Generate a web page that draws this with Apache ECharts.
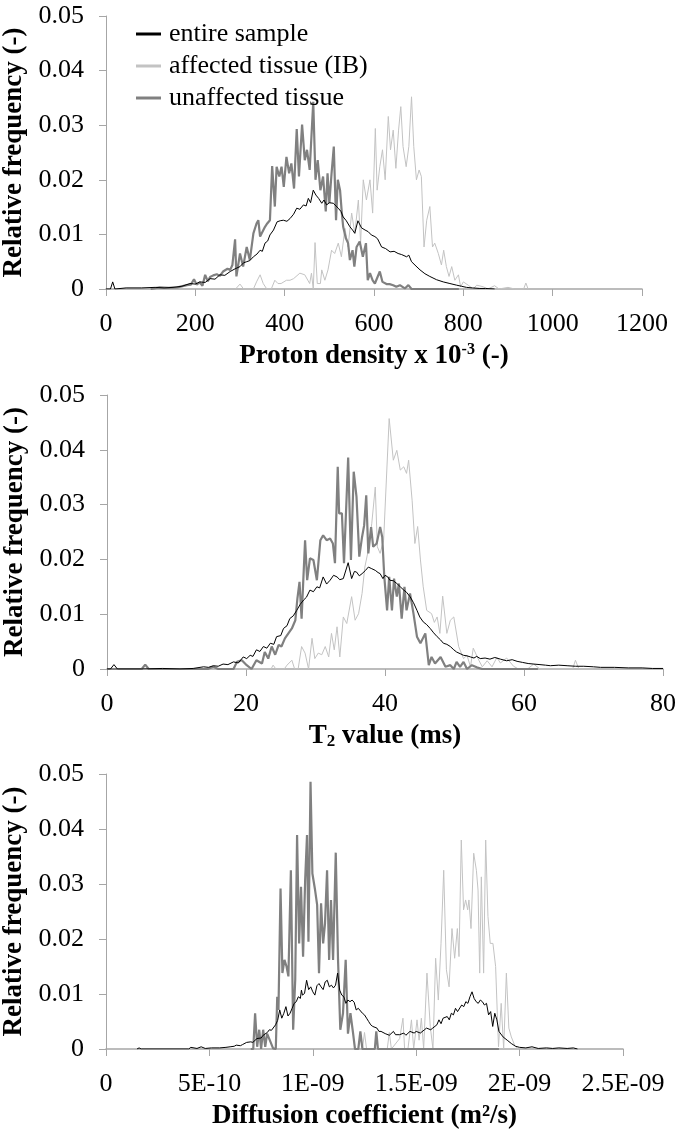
<!DOCTYPE html>
<html>
<head>
<meta charset="utf-8">
<script src="https://cdn.jsdelivr.net/npm/echarts@6/dist/echarts.min.js"></script>
<style>
html, body { margin: 0; padding: 0; background: #fff; }
#main { width: 675px; height: 1130px; }
</style>
</head>
<body>
<div id="main"></div>
<script>
// series names (legend)
const seriesNames = ['entire sample', 'affected tissue (IB)', 'unaffected tissue'];

// y ticks shared by the three panels
const yTickLabels = ['0', '0.01', '0.02', '0.03', '0.04', '0.05'];

// x tick labels
const pdTickLabels = ['0', '200', '400', '600', '800', '1000', '1200'];
const t2TickLabels = ['0', '20', '40', '60', '80'];
// panel 3 x values are stored in units of 1E-09 m2/s
const dcTickLabels = ['0', '5E-10', '1E-09', '1.5E-09', '2E-09', '2.5E-09'];

// ---------- panel 1: proton density x 10^-3 ----------
const pdEntire = [
  [0, 0], [10, 0], [15, 0.0013], [20, 0], [45, 0.0002], [80, 0.0002], [110, 0.0003], [130, 0.0002], [150, 0.0003], [170, 0.0005],
  [188, 0.001], [200, 0.0009], [210, 0.0013], [222, 0.0012], [233, 0.0019], [244, 0.0018], [255, 0.0026], [266, 0.0025], [278, 0.0032], [289, 0.0037],
  [300, 0.0041], [308, 0.0048], [315, 0.005], [322, 0.0052], [330, 0.0059], [338, 0.0064], [345, 0.0071], [350, 0.0069], [356, 0.0084], [362, 0.0088],
  [367, 0.0099], [375, 0.0108], [383, 0.0123], [390, 0.0125], [397, 0.0126], [405, 0.0124], [412, 0.0129], [420, 0.0137], [427, 0.0148], [434, 0.0146],
  [442, 0.0154], [448, 0.0152], [453, 0.0166], [458, 0.0158], [464, 0.0181], [470, 0.0172], [476, 0.0166], [483, 0.0157], [488, 0.0163], [494, 0.0154],
  [500, 0.0158], [509, 0.0157], [515, 0.0152], [520, 0.0148], [526, 0.0142], [531, 0.0132], [538, 0.0125], [546, 0.0114], [552, 0.0108], [557, 0.0102],
  [564, 0.0125], [572, 0.0112], [580, 0.0108], [587, 0.0105], [594, 0.0099], [602, 0.0096], [608, 0.0092], [617, 0.0077], [626, 0.0074], [636, 0.0068],
  [645, 0.0069], [654, 0.0065], [662, 0.0063], [673, 0.0059], [678, 0.0062], [684, 0.005], [694, 0.0042], [703, 0.0035], [714, 0.0028], [725, 0.0023],
  [740, 0.0017], [755, 0.0013], [770, 0.001], [785, 0.0007], [796, 0.0005], [807, 0.0003], [820, 0.0002], [837, 0.0001], [850, 0.0001], [870, 0]
];
const pdAffected = [
  [290, 0], [300, 0.0009], [308, 0], [330, 0], [337, 0.0013], [345, 0.0026], [352, 0.001], [360, 0], [370, 0], [378, 0.0016],
  [385, 0.001], [392, 0.001], [404, 0.0016], [412, 0.0016], [420, 0.0019], [434, 0.0029], [445, 0.0026], [456, 0.001], [460, 0.0029], [464, 0],
  [468, 0.0085], [473, 0.001], [480, 0.001], [483, 0.0035], [490, 0.0016], [497, 0.0035], [505, 0.0071], [512, 0.0065], [520, 0.0084], [527, 0.0059],
  [535, 0.0111], [542, 0.0077], [550, 0.0139], [557, 0.0102], [565, 0.0163], [570, 0.0084], [576, 0.02], [583, 0.0163], [591, 0.02], [597, 0.0139],
  [603, 0.0294], [607, 0.0181], [613, 0.0224], [619, 0.0255], [625, 0.02], [632, 0.0316], [637, 0.0255], [643, 0.0291], [649, 0.0221], [655, 0.0291],
  [660, 0.0334], [665, 0.0261], [672, 0.0224], [678, 0.0261], [684, 0.0352], [689, 0.0261], [695, 0.02], [701, 0.0218], [706, 0.0206], [712, 0.0077],
  [718, 0.0126], [725, 0.0151], [731, 0.0077], [736, 0.0084], [744, 0.0065], [751, 0.0044], [756, 0.0071], [762, 0.0041], [768, 0.0023], [774, 0.0041],
  [781, 0.0016], [789, 0.0026], [794, 0.0004], [800, 0.0013], [811, 0.0007], [822, 0], [830, 0.0007], [845, 0.0004], [855, 0], [870, 0.0006],
  [880, 0], [900, 0.0003], [915, 0], [935, 0], [940, 0.0011], [945, 0]
];
const pdUnaffected = [
  [100, 0], [120, 0.0003], [140, 0.0002], [160, 0.0003], [181, 0.0007], [190, 0.0008], [197, 0.0018], [203, 0.0008], [210, 0.0012], [216, 0.0006],
  [222, 0.0026], [228, 0.0014], [233, 0.0022], [240, 0.0025], [248, 0.0027], [255, 0.0024], [262, 0.0032], [266, 0.0029], [272, 0.0037], [278, 0.0035],
  [283, 0.0044], [289, 0.0091], [292, 0.0023], [300, 0.0065], [307, 0.0041], [315, 0.0077], [322, 0.0053], [330, 0.0102], [337, 0.012], [341, 0.0126],
  [345, 0.0096], [356, 0.0114], [361, 0.012], [367, 0.0126], [372, 0.0225], [378, 0.0151], [382, 0.0224], [388, 0.0206], [393, 0.0224], [398, 0.0187],
  [404, 0.0242], [410, 0.0212], [415, 0.023], [421, 0.0184], [427, 0.0293], [432, 0.0206], [439, 0.0301], [445, 0.0236], [450, 0.0255], [456, 0.0218],
  [464, 0.0343], [469, 0.02], [474, 0.0236], [480, 0.0181], [486, 0.0206], [492, 0.0142], [496, 0.0212], [500, 0.0157], [505, 0.0212], [510, 0.0261],
  [515, 0.0126], [519, 0.02], [524, 0.0181], [528, 0.0139], [531, 0.0114], [537, 0.0093], [542, 0.0084], [546, 0.0053], [552, 0.0071], [556, 0.0041],
  [561, 0.0077], [568, 0.0087], [575, 0.0059], [582, 0.0084], [586, 0.0016], [591, 0.0029], [597, 0.0016], [602, 0.001], [613, 0.0032], [619, 0.0013],
  [628, 0.0009], [635, 0.0009], [643, 0.0007], [650, 0.0004], [658, 0.0007], [669, 0.0001], [677, 0.0007], [684, 0], [790, 0]
];

// ---------- panel 2: T2 value (ms) ----------
const t2Entire = [
  [0, 0], [0.5, 0], [1, 0.0008], [1.5, 0], [5, 0], [8, 0.0001], [10.5, 0], [12.4, 0.0001], [13.9, 0.0004], [14.6, 0.0003],
  [15.3, 0.0006], [16, 0.0005], [16.7, 0.0009], [17.4, 0.0008], [18.2, 0.0013], [18.9, 0.0011], [19.6, 0.0022], [20.1, 0.0019], [20.6, 0.0025], [21, 0.0023],
  [21.5, 0.0035], [22, 0.0032], [22.5, 0.0041], [23, 0.0038], [23.5, 0.0047], [24, 0.0045], [24.4, 0.0059], [25, 0.0061], [25.4, 0.0074], [25.9, 0.0079],
  [26.3, 0.0092], [26.8, 0.0097], [27.3, 0.0107], [27.8, 0.0118], [28.3, 0.0126], [28.7, 0.0131], [29.2, 0.0144], [29.7, 0.0141], [30.2, 0.015], [30.6, 0.0148],
  [31.1, 0.0168], [31.6, 0.0155], [32.1, 0.0162], [32.6, 0.0171], [33.1, 0.0168], [33.5, 0.0163], [34, 0.0165], [34.7, 0.0194], [35.2, 0.0165], [35.6, 0.0178],
  [35.9, 0.0177], [36.3, 0.017], [36.7, 0.0174], [37.2, 0.018], [37.6, 0.0186], [38.1, 0.0183], [38.6, 0.018], [39, 0.0176], [39.3, 0.0174], [39.7, 0.0165],
  [40, 0.0171], [40.4, 0.0168], [40.7, 0.0162], [41.2, 0.0161], [41.7, 0.0156], [42.2, 0.015], [42.7, 0.0144], [43.1, 0.014], [43.6, 0.0132], [44.1, 0.0121],
  [44.6, 0.0107], [45, 0.0095], [45.5, 0.0086], [46, 0.0081], [46.5, 0.0074], [47, 0.0066], [47.5, 0.0059], [48, 0.0053], [48.4, 0.0047], [48.9, 0.0045],
  [49.4, 0.0041], [49.9, 0.0035], [50.3, 0.0031], [50.8, 0.0028], [51.3, 0.0025], [51.8, 0.0024], [52.3, 0.0022], [52.8, 0.002], [53.2, 0.0023], [53.7, 0.0019],
  [54.4, 0.002], [55.1, 0.0018], [55.8, 0.0021], [56.6, 0.0018], [57.5, 0.0015], [58.3, 0.0017], [59, 0.0014], [59.8, 0.0012], [60.6, 0.001], [61.4, 0.0009],
  [62.3, 0.0008], [63.1, 0.0007], [63.8, 0.0006], [65, 0.0007], [66.2, 0.0006], [67.4, 0.0005], [68.6, 0.0005], [70, 0.0004], [71, 0.0003], [73, 0.0003],
  [75, 0.0002], [77, 0.0002], [78.5, 0.0001], [80, 0.0001]
];
const t2Affected = [
  [19, 0], [23.6, 0], [23.9, 0.0007], [24.3, 0], [25.5, 0], [25.9, 0.0007], [26.6, 0.0016], [27, 0], [27.5, 0], [28, 0.0041],
  [28.5, 0.0029], [29, 0], [29.5, 0.0056], [29.9, 0.0019], [30.4, 0.0029], [30.9, 0.0026], [31.4, 0.0041], [31.9, 0.0022], [32.3, 0.0065], [32.7, 0.0035],
  [33.1, 0.0077], [33.5, 0.0022], [34, 0.0095], [34.5, 0.0083], [35.2, 0.0132], [35.7, 0.0089], [36.2, 0.0101], [36.7, 0.0138], [37.1, 0.0186], [37.6, 0.0217],
  [38.1, 0.0266], [38.6, 0.0332], [38.9, 0.0223], [39.3, 0.0211], [39.8, 0.0235], [40.6, 0.0457], [41.2, 0.0381], [41.7, 0.0399], [42.2, 0.0363], [42.7, 0.0369],
  [43.1, 0.0357], [43.4, 0.0381], [43.9, 0.0308], [44.3, 0.0229], [44.7, 0.026], [45.1, 0.0199], [45.5, 0.015], [46, 0.0107], [46.7, 0.0101], [47.1, 0.0085],
  [47.5, 0.0095], [47.9, 0.0065], [48.3, 0.0133], [48.9, 0.0065], [49.4, 0.0089], [49.9, 0.0095], [50.6, 0.0041], [51.3, 0.0019], [51.8, 0.0025], [52.3, 0.0004],
  [52.7, 0.0038], [53.5, 0.0016], [54, 0.0004], [54.7, 0.0015], [55.4, 0.0004], [56.1, 0.0021], [56.6, 0.0011], [57.5, 0.002], [58.5, 0.0005], [59.2, 0],
  [60.5, 0], [61.4, 0.0009], [62.3, 0], [67, 0], [67.4, 0.0016], [67.9, 0], [70, 0]
];
const t2Unaffected = [
  [0, 0], [5, 0], [5.5, 0.0008], [6, 0], [14.5, 0], [15.3, 0.0004], [16, 0], [18.2, 0], [18.7, 0.0013], [19.4, 0.0016],
  [20.1, 0.0007], [20.8, 0], [21.5, 0.0016], [22.3, 0.001], [22.7, 0.0031], [23.2, 0.0019], [23.7, 0.0041], [24.2, 0.0026], [24.7, 0.0044], [25.1, 0.0041],
  [25.6, 0.0056], [26.1, 0.0065], [26.6, 0.0074], [27.1, 0.0089], [27.4, 0.0129], [27.7, 0.0159], [28, 0.0092], [28.5, 0.0235], [28.8, 0.0162], [29.2, 0.0202],
  [29.7, 0.0199], [30.2, 0.0162], [30.7, 0.0235], [31.1, 0.0244], [31.6, 0.0235], [32.1, 0.0238], [32.5, 0.0229], [32.8, 0.0193], [33.2, 0.0369], [33.4, 0.0284],
  [33.8, 0.0284], [34.1, 0.0193], [34.7, 0.0386], [35.1, 0.0199], [35.5, 0.036], [35.9, 0.0314], [36.3, 0.0205], [36.7, 0.0241], [37, 0.0262], [37.3, 0.0317],
  [37.6, 0.0211], [38, 0.0259], [38.3, 0.0223], [38.8, 0.0229], [39.3, 0.0259], [39.6, 0.0241], [39.9, 0.0168], [40.3, 0.0107], [40.6, 0.0168], [41, 0.0107],
  [41.3, 0.0165], [41.7, 0.0132], [42, 0.0156], [42.4, 0.0092], [42.8, 0.015], [43.1, 0.0107], [43.6, 0.0138], [44.1, 0.0101], [44.6, 0.0059], [45.1, 0.0047],
  [45.8, 0.0065], [46.3, 0.0007], [46.7, 0.0022], [47.2, 0.001], [48, 0.0022], [48.7, 0.0004], [49.4, 0.0007], [49.9, 0], [50.3, 0.0013], [50.8, 0.0004],
  [51.3, 0.0013], [51.8, 0], [52.5, 0.0007], [53.2, 0.0003], [54, 0], [62, 0]
];

// ---------- panel 3: diffusion coefficient (x in 1E-09 m2/s) ----------
const dcEntire = [
  [0.15, 0], [0.16, 0.0002], [0.17, 0], [0.4, 0], [0.41, 0.0003], [0.44, 0.0001], [0.46, 0.0004], [0.48, 0.0001], [0.51, 0.0002], [0.55, 0.0002],
  [0.58, 0.0003], [0.6, 0.0004], [0.62, 0.0005], [0.63, 0.0007], [0.65, 0.0006], [0.66, 0.0008], [0.68, 0.0012], [0.7, 0.0013], [0.71, 0.0012], [0.73, 0.0019],
  [0.75, 0.002], [0.76, 0.0025], [0.78, 0.003], [0.79, 0.0035], [0.8, 0.0034], [0.82, 0.0044], [0.83, 0.0052], [0.84, 0.0071], [0.85, 0.0056], [0.86, 0.0065],
  [0.87, 0.0077], [0.88, 0.006], [0.89, 0.0065], [0.9, 0.0074], [0.91, 0.0083], [0.92, 0.0086], [0.93, 0.0095], [0.94, 0.0092], [0.945, 0.0107], [0.95, 0.0098],
  [0.96, 0.0101], [0.97, 0.0125], [0.98, 0.0108], [0.99, 0.0113], [1, 0.0104], [1.01, 0.0098], [1.02, 0.0115], [1.03, 0.0119], [1.04, 0.0113], [1.05, 0.0108],
  [1.06, 0.0122], [1.07, 0.0125], [1.08, 0.0113], [1.09, 0.0116], [1.1, 0.0111], [1.11, 0.0116], [1.12, 0.0138], [1.13, 0.0107], [1.14, 0.0098], [1.15, 0.0095],
  [1.16, 0.0083], [1.17, 0.0089], [1.18, 0.0086], [1.19, 0.0089], [1.2, 0.0085], [1.21, 0.0071], [1.22, 0.0074], [1.24, 0.0065], [1.25, 0.0062], [1.26, 0.0056],
  [1.27, 0.005], [1.28, 0.0044], [1.29, 0.0041], [1.31, 0.0038], [1.32, 0.0032], [1.33, 0.0032], [1.35, 0.0028], [1.37, 0.0025], [1.39, 0.0032], [1.4, 0.0026],
  [1.42, 0.0026], [1.44, 0.0029], [1.45, 0.0025], [1.47, 0.0032], [1.49, 0.0029], [1.5, 0.0032], [1.52, 0.0029], [1.54, 0.0035], [1.55, 0.0038], [1.57, 0.0035],
  [1.58, 0.0038], [1.6, 0.0044], [1.61, 0.0053], [1.62, 0.0046], [1.63, 0.0056], [1.65, 0.0059], [1.66, 0.0053], [1.67, 0.0065], [1.68, 0.0062], [1.69, 0.0074],
  [1.7, 0.0068], [1.72, 0.008], [1.73, 0.0077], [1.74, 0.0086], [1.75, 0.0083], [1.76, 0.0095], [1.77, 0.0104], [1.78, 0.0092], [1.79, 0.0086], [1.8, 0.0083],
  [1.81, 0.0089], [1.82, 0.0086], [1.83, 0.008], [1.84, 0.0083], [1.85, 0.0062], [1.86, 0.0068], [1.87, 0.0041], [1.88, 0.0065], [1.89, 0.0053], [1.9, 0.0032],
  [1.92, 0.0022], [1.94, 0.0016], [1.96, 0.001], [1.98, 0.0005], [2, 0.0003], [2.03, 0.0002], [2.06, 0.0004], [2.09, 0.0001], [2.13, 0.0002], [2.16, 0.0001],
  [2.19, 0.0002], [2.23, 0.0001], [2.26, 0.0002], [2.28, 0]
];
const dcAffected = [
  [1.24, 0], [1.25, 0.003], [1.26, 0], [1.36, 0], [1.37, 0.003], [1.38, 0], [1.42, 0.0019], [1.436, 0.0056], [1.444, 0], [1.46, 0],
  [1.477, 0.0053], [1.488, 0], [1.504, 0.0053], [1.514, 0.0016], [1.525, 0.0056], [1.536, 0], [1.552, 0.0138], [1.568, 0.0041], [1.581, 0], [1.594, 0.0165],
  [1.607, 0.0089], [1.62, 0.0192], [1.633, 0.0325], [1.646, 0.0144], [1.659, 0.0113], [1.673, 0.0219], [1.686, 0.0165], [1.699, 0.0219], [1.707, 0.0168], [1.718, 0.038],
  [1.729, 0.0253], [1.739, 0.0271], [1.749, 0.0253], [1.755, 0.0271], [1.765, 0.0219], [1.778, 0.0356], [1.791, 0.0325], [1.799, 0.0289], [1.807, 0.0138], [1.815, 0.0313],
  [1.826, 0.0138], [1.836, 0.038], [1.847, 0.0241], [1.858, 0.0192], [1.871, 0.0192], [1.884, 0.015], [1.898, 0.0004], [1.911, 0.0083], [1.923, 0], [1.936, 0.0138],
  [1.948, 0.0038], [1.96, 0.0022], [1.976, 0.0007], [1.992, 0], [2, 0]
];
const dcUnaffected = [
  [0.7, 0], [0.712, 0], [0.721, 0.0065], [0.731, 0.0004], [0.741, 0.0035], [0.75, 0], [0.76, 0.0035], [0.77, 0.0004], [0.779, 0.0028], [0.792, 0.0016],
  [0.808, 0.0001], [0.821, 0], [0.828, 0.0095], [0.834, 0.0071], [0.844, 0.0292], [0.853, 0.0138], [0.863, 0.0162], [0.873, 0.015], [0.882, 0.0132], [0.894, 0.0325],
  [0.905, 0.0035], [0.915, 0.0126], [0.924, 0.0389], [0.934, 0.0192], [0.943, 0.0295], [0.953, 0.0168], [0.963, 0.0307], [0.972, 0.0389], [0.979, 0.0195], [0.989, 0.0486],
  [0.998, 0.0319], [1.011, 0.0289], [1.021, 0.0262], [1.03, 0.0138], [1.04, 0.0265], [1.05, 0.0192], [1.059, 0.0228], [1.069, 0.0325], [1.079, 0.0162], [1.088, 0.0271],
  [1.098, 0.0162], [1.111, 0.0357], [1.122, 0.0162], [1.133, 0.0035], [1.146, 0.0065], [1.159, 0.0162], [1.17, 0.0028], [1.182, 0.0065], [1.195, 0.0028], [1.204, 0],
  [1.22, 0], [1.23, 0.0032], [1.24, 0], [1.3, 0], [1.307, 0.0032], [1.315, 0], [1.9, 0]
];

const FONT = 'Liberation Serif';
const AXIS_GREY = '#a6a6a6';
const COL_ENTIRE = '#000000';
const COL_AFFECTED = '#c3c3c3';
const COL_UNAFFECTED = '#808080';

var chartDom = document.getElementById('main');
var myChart = echarts.init(chartDom);
var option;

function yAxisFor(i) {
  return {
    gridIndex: i,
    type: 'value',
    min: 0,
    max: 0.05,
    interval: 0.01,
    name: 'Relative frequency (-)',
    nameLocation: 'middle',
    nameGap: 72,
    nameTextStyle: { fontFamily: FONT, fontWeight: 'bold', fontSize: 27, color: '#000' },
    axisLine: { show: true, lineStyle: { color: AXIS_GREY, width: 1 } },
    axisTick: { show: true, length: 7, lineStyle: { color: AXIS_GREY } },
    splitLine: { show: false },
    axisLabel: {
      margin: 22,
      fontFamily: FONT,
      fontSize: 26,
      color: '#000',
      formatter: function (v) { return yTickLabels[Math.round(v / 0.01)]; }
    }
  };
}

function xAxisFor(i, max, interval, labels, name, rich) {
  return {
    gridIndex: i,
    type: 'value',
    min: 0,
    max: max,
    interval: interval,
    name: name,
    nameLocation: 'middle',
    nameGap: 53,
    nameTextStyle: { fontFamily: FONT, fontWeight: 'bold', fontSize: 27, color: '#000', lineHeight: 28, rich: rich },
    axisLine: { show: true, lineStyle: { color: AXIS_GREY, width: 1.5 } },
    axisTick: { show: true, length: 7, lineStyle: { color: AXIS_GREY } },
    splitLine: { show: false },
    axisLabel: {
      margin: 22,
      fontFamily: FONT,
      fontSize: 26,
      color: '#000',
      formatter: function (v) { return labels[Math.round(v / interval)]; }
    }
  };
}

function lineSeries(i, name, data, color, width, z) {
  return {
    type: 'line',
    name: name,
    xAxisIndex: i,
    yAxisIndex: i,
    data: data,
    showSymbol: false,
    symbol: 'none',
    z: z,
    lineStyle: { color: color, width: width },
    itemStyle: { color: color }
  };
}

option = {
  animation: false,
  backgroundColor: '#fff',
  grid: [
    { left: 106, right: 33, top: 16, height: 273, containLabel: false, outerBoundsMode: 'none' },
    { left: 107, right: 12, top: 395, height: 274, containLabel: false, outerBoundsMode: 'none' },
    { left: 106, right: 52, top: 774, height: 275, containLabel: false, outerBoundsMode: 'none' }
  ],
  legend: {
    data: seriesNames,
    orient: 'vertical',
    left: 131,
    top: 13,
    icon: 'rect',
    itemWidth: 25,
    itemHeight: 3,
    itemGap: 0,
    textStyle: { fontFamily: FONT, fontSize: 26, color: '#000', lineHeight: 32, padding: [0, 0, 0, 3] }
  },
  xAxis: [
    xAxisFor(0, 1200, 200, pdTickLabels, 'Proton density x 10{sup|-3} (-)',
      { sup: { fontFamily: FONT, fontWeight: 'bold', fontSize: 16, lineHeight: 14, verticalAlign: 'top', color: '#000' } }),
    xAxisFor(1, 80, 20, t2TickLabels, 'T{sub|2} value (ms)',
      { sub: { fontFamily: FONT, fontWeight: 'bold', fontSize: 17, lineHeight: 12, verticalAlign: 'bottom', color: '#000' } }),
    xAxisFor(2, 2.5, 0.5, dcTickLabels, 'Diffusion coefficient (m²/s)', {})
  ],
  yAxis: [yAxisFor(0), yAxisFor(1), yAxisFor(2)],
  series: [
    lineSeries(0, seriesNames[1], pdAffected, COL_AFFECTED, 1, 2),
    lineSeries(0, seriesNames[2], pdUnaffected, COL_UNAFFECTED, 2.2, 3),
    lineSeries(0, seriesNames[0], pdEntire, COL_ENTIRE, 1, 4),
    lineSeries(1, seriesNames[1], t2Affected, COL_AFFECTED, 1, 2),
    lineSeries(1, seriesNames[2], t2Unaffected, COL_UNAFFECTED, 2.2, 3),
    lineSeries(1, seriesNames[0], t2Entire, COL_ENTIRE, 1, 4),
    lineSeries(2, seriesNames[1], dcAffected, COL_AFFECTED, 1, 2),
    lineSeries(2, seriesNames[2], dcUnaffected, COL_UNAFFECTED, 2.2, 3),
    lineSeries(2, seriesNames[0], dcEntire, COL_ENTIRE, 1, 4)
  ]
};

option && myChart.setOption(option);
</script>
</body>
</html>
